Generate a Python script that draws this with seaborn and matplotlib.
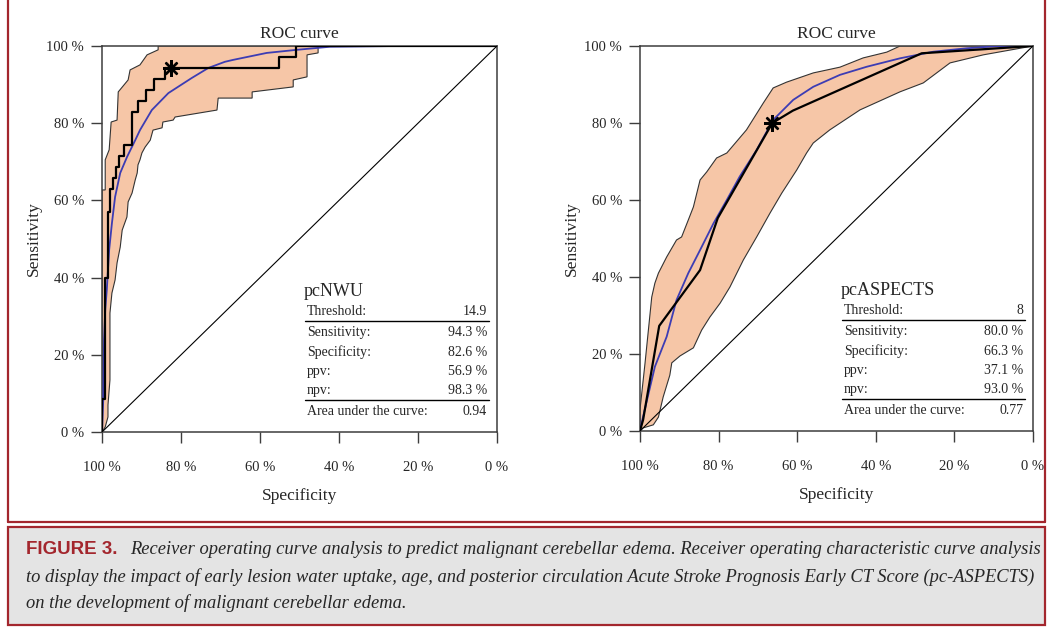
import matplotlib.pyplot as plt
import matplotlib.lines as mlines
import matplotlib.patches as mpatches
import seaborn as sns

sns.set_style("ticks")
plt.rcParams['font.family'] = ['Liberation Serif', 'DejaVu Serif']

# ---- pcNWU (left panel), values in percent ----
nwu_emp_spec = [100, 100, 99.3, 99.3, 98.6, 98.6, 97.9, 97.9, 97.2, 97.2, 96.5, 96.5,
                95.8, 95.8, 94.4, 94.4, 92.4, 92.4, 91.0, 91.0, 88.9, 88.9, 86.8, 86.8,
                84.0, 84.0, 55.3, 55.3, 51.0, 51.0, 0]
nwu_emp_sens = [0, 8.6, 8.6, 40.0, 40.0, 57.1, 57.1, 62.9, 62.9, 65.7, 65.7, 68.6,
                68.6, 71.4, 71.4, 74.3, 74.3, 82.9, 82.9, 85.7, 85.7, 88.6, 88.6, 91.4,
                91.4, 94.3, 94.3, 97.1, 97.1, 100, 100]

nwu_smooth_spec = [100, 99.7, 99.5, 99.2, 98.8, 98.2, 97.5, 96.7, 95.4, 93.7, 91.6, 90.4,
                   87.4, 83.2, 77.3, 73.1, 68.9, 66.8, 58.3, 50.7, 42.3, 24.6, 0]
nwu_smooth_sens = [0, 8.3, 23.8, 31.6, 36.8, 47.2, 54.1, 60.9, 67.1, 71.2, 75.6, 78.2,
                   83.4, 87.8, 91.7, 94.3, 95.9, 96.4, 98.2, 99.0, 99.8, 100, 100]

nwu_ci_hi_spec = [100, 100, 99.2, 99.2, 98.2, 97.7, 96.2, 95.9, 93.4, 92.9, 90.4, 88.6, 85.8, 85.8]
nwu_ci_hi_sens = [0, 62.7, 62.7, 70.5, 73.1, 80.3, 80.8, 88.1, 91.2, 93.8, 95.1, 97.7, 99.0, 100]
nwu_ci_lo_spec = [100, 99.2, 98.5, 98.5, 98.0, 98.0, 97.5, 96.7, 96.2, 95.4, 94.9, 93.7, 93.4,
                  92.4, 91.6, 91.1, 90.9, 90.4, 89.9, 89.1, 87.8, 87.1, 84.8, 84.6, 82.0,
                  81.5, 70.9, 70.6, 62.0, 62.0, 51.6, 51.6, 48.1, 48.1, 45.3, 45.3]
nwu_ci_lo_sens = [0, 1.3, 3.9, 7.0, 13.5, 30.8, 36.0, 39.4, 43.8, 47.9, 52.3, 55.7, 59.6,
                  61.9, 65.3, 67.1, 69.2, 70.5, 72.3, 73.8, 75.6, 78.2, 78.8, 80.3, 80.8,
                  81.6, 83.4, 86.5, 86.5, 88.1, 89.4, 91.2, 92.0, 97.7, 98.2, 100]
nwu_best = (82.6, 94.3)
nwu_labels = ["Threshold:", "Sensitivity:", "Specificity:", "ppv:", "npv:", "Area under the curve:"]
nwu_values = ["14.9", "94.3 %", "82.6 %", "56.9 %", "98.3 %", "0.94"]

# ---- pcASPECTS (right panel) ----
asp_emp_spec = [100, 99.2, 95.1, 84.7, 80.2, 66.3, 61.1, 28.3, 0]
asp_emp_sens = [0, 2.9, 27.3, 41.8, 55.3, 80.0, 83.2, 98.1, 100]

asp_smooth_spec = [100, 99.6, 96.2, 93.2, 90.7, 87.7, 84.7, 81.3, 77.9, 74.6, 70.3, 66.1,
                   61.0, 55.9, 49.1, 42.3, 33.8, 25.4, 16.9, 8.4, 0]
asp_smooth_sens = [0, 2.0, 16.7, 24.5, 34.0, 41.0, 47.0, 53.9, 60.0, 66.1, 73.0, 80.8,
                   86.0, 89.4, 92.5, 94.6, 96.8, 98.5, 99.4, 100, 100]

asp_ci_hi_spec = [100, 100, 98.7, 97.0, 96.2, 95.3, 93.2, 90.7, 89.4, 87.7, 86.4, 84.7,
                  83.0, 80.5, 77.9, 72.9, 68.6, 66.1, 62.7, 55.9, 49.1, 43.2, 37.2, 33.8]
asp_ci_hi_sens = [0, 5.5, 17.7, 34.8, 38.4, 41.0, 45.2, 49.6, 50.4, 54.8, 58.2, 65.2,
                  67.3, 70.9, 72.2, 78.2, 85.2, 89.1, 90.6, 93.0, 94.5, 96.9, 98.4, 100]
asp_ci_lo_spec = [100, 99.2, 96.6, 95.3, 94.1, 92.4, 91.9, 89.8, 86.4, 84.3, 82.2, 79.6,
                  77.1, 73.7, 70.3, 66.9, 63.9, 60.1, 57.6, 55.9, 51.7, 44.0, 33.8, 27.9,
                  21.1, 12.6, 0]
asp_ci_lo_sens = [0, 0.8, 1.6, 3.6, 8.8, 14.5, 17.7, 19.5, 21.6, 26.2, 29.6, 33.2,
                  37.4, 44.4, 50.4, 56.6, 61.8, 67.8, 72.2, 74.8, 78.2, 83.4, 88.1, 90.4,
                  95.6, 97.7, 100]
asp_best = (66.3, 80.0)
asp_labels = nwu_labels
asp_values = ["8", "80.0 %", "66.3 %", "37.1 %", "93.0 %", "0.77"]

PEACH = "#f6c6a7"
BLUE = "#3c3cb4"
RED = "#a3262d"
AXCOL = "#3d3d3d"

fig = plt.figure(figsize=(10.51, 6.28), dpi=100)
ax1 = fig.add_axes([0.0971, 0.3121, 0.3758, 0.6147])
ax2 = fig.add_axes([0.6089, 0.3137, 0.3739, 0.6131])


def draw_panel(ax, hi_x, hi_y, lo_x, lo_y, sm_x, sm_y, em_x, em_y, best, name, labels, values):
    poly_x = hi_x + [0] + lo_x[::-1]
    poly_y = hi_y + [100] + lo_y[::-1]
    ax.fill(poly_x, poly_y, facecolor=PEACH, edgecolor="#333333", lw=0.8, zorder=1)
    ax.plot([100, 0], [0, 100], color="black", lw=0.8, zorder=2)
    sns.lineplot(x=sm_x, y=sm_y, sort=False, estimator=None, color=BLUE, lw=1.3, ax=ax, zorder=3)
    sns.lineplot(x=em_x, y=em_y, sort=False, estimator=None, color="black", lw=1.6, ax=ax, zorder=4)
    ax.plot([best[0]], [best[1]], marker=(8, 2, 0), ms=12, mew=1.7, color="black", zorder=5)

    ax.set_xlim(100, 0)
    ax.set_ylim(0, 100)
    ticks = [100, 80, 60, 40, 20, 0]
    ax.set_xticks(ticks)
    ax.set_xticklabels([f"{t} %" for t in ticks])
    ax.set_yticks(ticks[::-1])
    ax.set_yticklabels([f"{t} %" for t in ticks[::-1]])
    ax.tick_params(axis="x", direction="out", length=8, width=1, pad=13, labelsize=10.5, color=AXCOL)
    ax.tick_params(axis="y", direction="out", length=8, width=1, pad=5, labelsize=10.5, color=AXCOL)
    for sp in ax.spines.values():
        sp.set_visible(True)
        sp.set_color(AXCOL)
        sp.set_linewidth(1.1)
    ax.set_title("ROC curve", fontsize=12.5, pad=6)
    ax.set_xlabel("Specificity", fontsize=12.5)
    ax.set_ylabel("Sensitivity", fontsize=12.5)
    ax.xaxis.set_label_coords(0.5, -0.145)
    ax.yaxis.set_label_coords(-0.153, 0.5)

    # summary table
    tx0, tx1 = 0.519, 0.975
    ax.text(tx0 - 0.008, 0.365, name, transform=ax.transAxes, fontsize=13, va="center", ha="left")
    row_y = [0.313, 0.259, 0.207, 0.157, 0.108, 0.052]
    for lab, val, yy in zip(labels, values, row_y):
        ax.text(tx0, yy, lab, transform=ax.transAxes, fontsize=10, va="center", ha="left")
        ax.text(tx1, yy, val, transform=ax.transAxes, fontsize=10, va="center", ha="right")
    for yy in (0.288, 0.083):
        ax.add_line(mlines.Line2D([tx0 - 0.006, tx1 + 0.004], [yy, yy], transform=ax.transAxes,
                                  color="black", lw=1.0))


draw_panel(ax1, nwu_ci_hi_spec, nwu_ci_hi_sens, nwu_ci_lo_spec, nwu_ci_lo_sens,
           nwu_smooth_spec, nwu_smooth_sens, nwu_emp_spec, nwu_emp_sens, nwu_best,
           "pcNWU", nwu_labels, nwu_values)
draw_panel(ax2, asp_ci_hi_spec, asp_ci_hi_sens, asp_ci_lo_spec, asp_ci_lo_sens,
           asp_smooth_spec, asp_smooth_sens, asp_emp_spec, asp_emp_sens, asp_best,
           "pcASPECTS", asp_labels, asp_values)

# frame around the figure panel and caption box
W, H = 1051, 628
def fx(px):
    return px / W
def fy(py):
    return 1 - py / H

for xs, ys in [([8, 8], [0, 522]), ([1045, 1045], [0, 522]), ([8, 1045], [522, 522])]:
    fig.add_artist(mlines.Line2D([fx(x) for x in xs], [fy(y) for y in ys], color=RED, lw=1.6))
fig.add_artist(mpatches.Rectangle((fx(8), fy(625)), fx(1045) - fx(8), fy(527) - fy(625),
                                  facecolor="#e4e4e4", edgecolor=RED, lw=1.6))

fig.text(fx(26), fy(550), "FIGURE 3.", color=RED, fontsize=13.5, fontweight="bold",
         family=["Liberation Sans Narrow", "Liberation Sans", "DejaVu Sans"], va="center", ha="left")
cap_lines = [
    "Receiver operating curve analysis to predict malignant cerebellar edema. Receiver operating characteristic curve analysis",
    "to display the impact of early lesion water uptake, age, and posterior circulation Acute Stroke Prognosis Early CT Score (pc-ASPECTS)",
    "on the development of malignant cerebellar edema.",
]
fig.text(fx(130), fy(550), cap_lines[0], fontsize=13.3, style="italic", va="center", ha="left")
fig.text(fx(26), fy(577), cap_lines[1], fontsize=13.3, style="italic", va="center", ha="left")
fig.text(fx(26), fy(603), cap_lines[2], fontsize=13.3, style="italic", va="center", ha="left")

fig.savefig("out.png", dpi=100)
